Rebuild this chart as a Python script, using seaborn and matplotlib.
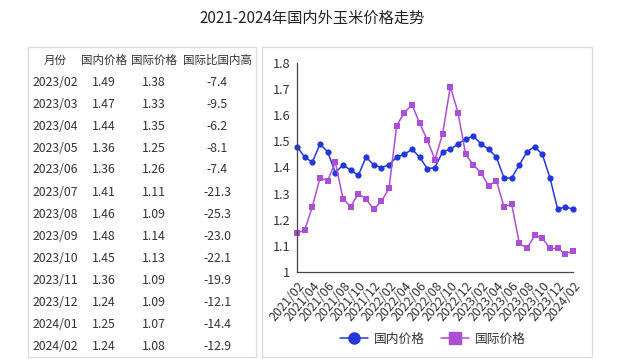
import matplotlib
matplotlib.use("Agg")
import matplotlib.pyplot as plt
from matplotlib.patches import Rectangle
from matplotlib.lines import Line2D
import seaborn as sns
import pandas as pd

# monthly prices 2021/02 .. 2024/02
months = [f"{y}/{m:02d}" for y in (2021, 2022, 2023, 2024) for m in range(1, 13)]
months = months[months.index("2021/02"):months.index("2024/02") + 1]
domestic = [1.48, 1.44, 1.42, 1.49, 1.46, 1.38, 1.41, 1.39, 1.37, 1.44, 1.41, 1.40,
            1.41, 1.44, 1.45, 1.47, 1.44, 1.395, 1.40, 1.46, 1.47, 1.49, 1.51, 1.52,
            1.49, 1.47, 1.44, 1.36, 1.36, 1.41, 1.46, 1.48, 1.45, 1.36, 1.24, 1.25, 1.24]
international = [1.15, 1.16, 1.25, 1.36, 1.35, 1.42, 1.28, 1.25, 1.30, 1.28, 1.24, 1.27,
                 1.32, 1.56, 1.61, 1.64, 1.57, 1.505, 1.43, 1.53, 1.71, 1.61, 1.45, 1.41,
                 1.38, 1.33, 1.35, 1.25, 1.26, 1.11, 1.09, 1.14, 1.13, 1.09, 1.09, 1.07, 1.08]

# table on the left
table_header = ["月份", "国内价格", "国际价格", "国际比国内高"]
table_months = months[-13:]
table_domestic = ["1.49", "1.47", "1.44", "1.36", "1.36", "1.41", "1.46", "1.48", "1.45",
                  "1.36", "1.24", "1.25", "1.24"]
table_intl = ["1.38", "1.33", "1.35", "1.25", "1.26", "1.11", "1.09", "1.14", "1.13",
              "1.09", "1.09", "1.07", "1.08"]
table_diff = ["-7.4", "-9.5", "-6.2", "-8.1", "-7.4", "-21.3", "-25.3", "-23.0", "-22.1",
              "-19.9", "-12.1", "-14.4", "-12.9"]

BLUE = "#2338d8"
PURPLE = "#aa4fd6"
TXT = "#333333"

sns.set_style("white")
plt.rcParams["font.family"] = ["Noto Sans CJK SC", "DejaVu Sans"]

W, H = 625, 359
fig = plt.figure(figsize=(W / 100, H / 100), dpi=100)


def fx(px):
    return px / W


def fy(py):
    return 1 - py / H


# boxes
for x0, x1 in ((28, 256), (262, 592)):
    fig.patches.append(Rectangle((fx(x0), fy(357)), fx(x1 - x0), (357 - 47) / H,
                                 transform=fig.transFigure, fill=False,
                                 edgecolor="#dcdcdc", linewidth=1))

fig.text(fx(312), fy(18), "2021-2024年国内外玉米价格走势", ha="center", va="center",
         fontsize=11, color="#222222")

# table text
col_x = [55, 104, 154, 217]
for cx, h in zip(col_x, table_header):
    fig.text(fx(cx), fy(60), h, ha="center", va="center", fontsize=8.3, color=TXT)
for i, row in enumerate(zip(table_months, table_domestic, table_intl, table_diff)):
    y = 82 + 22 * i
    for cx, v in zip(col_x, row):
        fig.text(fx(cx), fy(y), v, ha="center", va="center", fontsize=8.8, color=TXT)

# line chart
ax = fig.add_axes([fx(297), fy(272), fx(573 - 297), (272 - 63) / H])
df = pd.DataFrame({"idx": range(len(months)), "国内价格": domestic, "国际价格": international})
sns.lineplot(data=df, x="idx", y="国内价格", ax=ax, color=BLUE, linewidth=1.1,
             marker="o", markersize=4.5, markeredgewidth=0, clip_on=False)
sns.lineplot(data=df, x="idx", y="国际价格", ax=ax, color=PURPLE, linewidth=1.1,
             marker="s", markersize=4, markeredgewidth=0, clip_on=False)

ax.set_xlim(0, len(months) - 1)
ax.set_ylim(1, 1.8)
yt = [1, 1.1, 1.2, 1.3, 1.4, 1.5, 1.6, 1.7, 1.8]
ax.set_yticks(yt)
ax.set_yticklabels([f"{v:g}" for v in yt])
ax.set_xticks(range(0, len(months), 2))
ax.set_xticklabels(months[::2], rotation=50, ha="right", rotation_mode="anchor")
ax.tick_params(axis="both", which="both", direction="out", length=3.5, width=0.8,
               color="#444444", labelcolor=TXT, pad=1.5)
ax.tick_params(axis="y", labelsize=9.2)
ax.tick_params(axis="x", labelsize=9)
ax.set_xlabel("")
ax.set_ylabel("")
for s in ("top", "right"):
    ax.spines[s].set_visible(False)
for s in ("left", "bottom"):
    ax.spines[s].set_color("#444444")
    ax.spines[s].set_linewidth(0.9)

handles = [Line2D([], [], color=BLUE, marker="o", markersize=8, linewidth=1.1),
           Line2D([], [], color=PURPLE, marker="s", markersize=8, linewidth=1.1)]
fig.legend(handles, ["国内价格", "国际价格"], loc="center", ncol=2, frameon=False,
           bbox_to_anchor=(fx(433), fy(339)), fontsize=9.2, handlelength=2.2,
           columnspacing=1.2, handletextpad=0.5, labelcolor=TXT)

fig.savefig("out.png", dpi=100)
